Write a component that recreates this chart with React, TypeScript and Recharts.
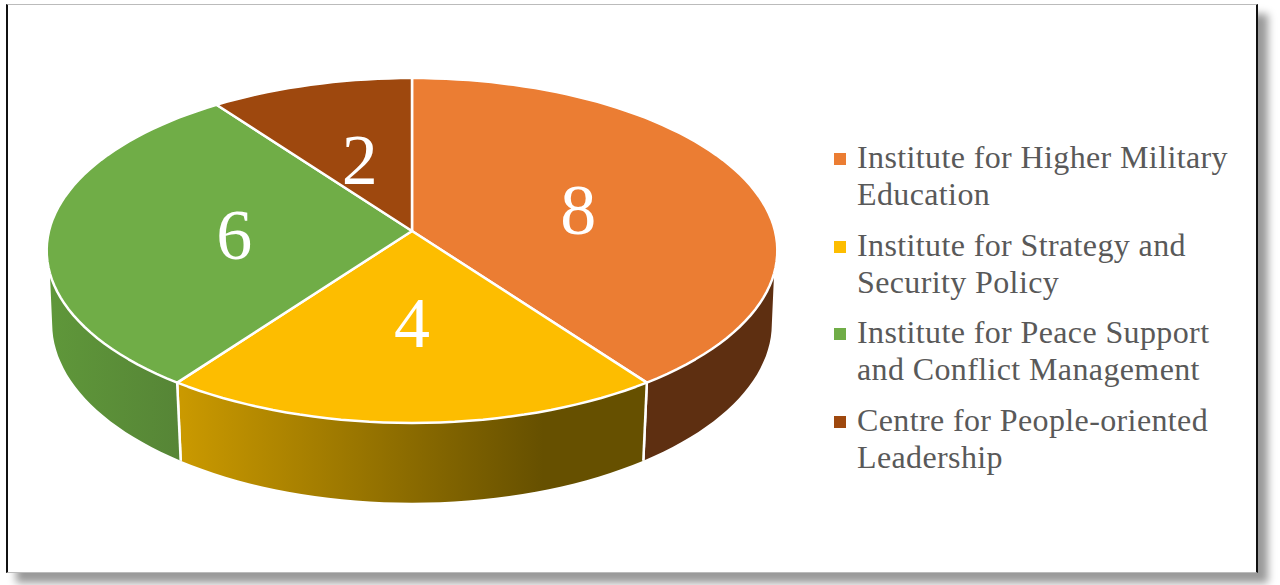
import { Legend, Pie, PieChart } from 'recharts'

const categories = [
  'Institute for Higher Military Education',
  'Institute for Strategy and Security Policy',
  'Institute for Peace Support and Conflict Management',
  'Centre for People-oriented Leadership',
]
const counts = [8, 4, 6, 2]
const topColors = ['#EB7D33', '#FDBD00', '#70AD47', '#9E480E']
const wallColors = ['#5E2F11', 'url(#wallYellow)', 'url(#wallGreen)', '#5E2F0A']

const data = categories.map((name, i) => ({
  name,
  value: counts[i],
  fill: topColors[i],
  wall: wallColors[i],
}))

// fake 3d: the flat circle gets tilted with a bit of perspective
const PERSPECTIVE = 0.113
const SQUASH = 0.469
const RING_X = 0.985
const RING_Y = 0.488
const RING_DROP = 72

const rad = (deg: number) => (deg * Math.PI) / 180

function topPoint(cx: number, cy: number, r: number, deg: number, f = 1) {
  const u = f * Math.cos(rad(deg))
  const v = f * Math.sin(rad(deg))
  const w = 1 + PERSPECTIVE * v
  return [cx + (r * u) / w, cy - (r * SQUASH * v) / w]
}

function lowPoint(cx: number, cy: number, r: number, deg: number) {
  const u = Math.cos(rad(deg))
  const v = Math.sin(rad(deg))
  const w = 1 + PERSPECTIVE * v
  return [cx + (r * RING_X * u) / w, cy + RING_DROP - (r * RING_Y * v) / w]
}

function arc(fn: (deg: number) => number[], from: number, to: number) {
  const steps = Math.max(2, Math.ceil(Math.abs(to - from) / 2))
  const pts: number[][] = []
  for (let i = 0; i <= steps; i++) pts.push(fn(from + ((to - from) * i) / steps))
  return pts
}

const toPath = (pts: number[][]) =>
  pts.map((p, i) => `${i ? 'L' : 'M'}${p[0].toFixed(1)} ${p[1].toFixed(1)}`).join(' ')

function PieSlice(props: any) {
  const { cx, cy, outerRadius: r, startAngle, endAngle, fill, wall } = props
  const top = (d: number) => topPoint(cx, cy, r, d)
  const low = (d: number) => lowPoint(cx, cy, r, d)

  // only the part of the rim facing the viewer has a wall
  const hi = Math.max(startAngle, endAngle)
  const lo = Math.min(startAngle, endAngle)
  const wallFrom = Math.max(lo, -166)
  const wallTo = Math.min(hi, -14)
  const hasWall = wallTo > wallFrom

  // lower ring runs a little further round so the silhouette drops straight
  const lowFrom = wallFrom === -166 ? -173 : wallFrom
  const lowTo = wallTo === -14 ? -7 : wallTo

  const wallPath = hasWall
    ? toPath([...arc(top, wallFrom, wallTo), ...arc(low, lowTo, lowFrom)]) + ' Z'
    : ''

  const seams = [lo, hi].filter((a) => a > -166 && a < -14)

  return (
    <g>
      {hasWall && <path d={wallPath} fill={wall} stroke="none" />}
      {seams.map((a) => (
        <line
          key={a}
          x1={top(a)[0]}
          y1={top(a)[1]}
          x2={low(a)[0]}
          y2={low(a)[1]}
          stroke="#ffffff"
          strokeWidth={2.5}
        />
      ))}
      <path
        d={toPath([[cx, cy], ...arc(top, startAngle, endAngle)]) + ' Z'}
        fill={fill}
        stroke="#ffffff"
        strokeWidth={2.5}
        strokeLinejoin="round"
      />
    </g>
  )
}

function SliceLabel(props: any) {
  const { cx, cy, outerRadius, midAngle, value } = props
  const [x, y] = topPoint(cx, cy, outerRadius, midAngle, 0.49)
  return (
    <text
      x={x}
      y={y + 4}
      fill="#ffffff"
      textAnchor="middle"
      dominantBaseline="central"
      style={{ fontFamily: '"Liberation Serif", serif', fontSize: 72 }}
    >
      {value}
    </text>
  )
}

function LegendList({ payload }: any) {
  return (
    <div
      style={{
        fontFamily: '"Liberation Serif", serif',
        fontSize: 32,
        letterSpacing: 0.38,
        lineHeight: '37px',
        color: '#595959',
      }}
    >
      {(payload ?? []).map((entry: any) => (
        <div key={entry.value} style={{ position: 'relative', paddingLeft: 23, marginBottom: 13.6 }}>
          <span
            style={{
              position: 'absolute',
              left: 0,
              top: 14,
              width: 12,
              height: 12,
              background: entry.color,
            }}
          />
          {entry.value}
        </div>
      ))}
    </div>
  )
}

export default function App() {
  return (
    <div style={{ position: 'absolute', left: 0, top: 0, width: 1280, height: 585, overflow: 'hidden', background: '#fff' }}>
      <div
        style={{
          position: 'absolute',
          left: 6,
          top: 4,
          width: 1248,
          height: 567,
          background: '#fff',
          borderLeft: '2px solid #111',
          borderRight: '2px solid #111',
          borderTop: '1px solid #bbb',
          borderBottom: '1px solid #bbb',
          boxShadow: '10px 10px 8px rgba(0,0,0,0.4)',
        }}
      />
      <div style={{ position: 'absolute', left: 0, top: 0 }}>
        <PieChart width={1280} height={585} margin={{ top: 0, right: 0, bottom: 0, left: 0 }}>
          <defs>
            <linearGradient id="wallYellow" x1="0" y1="0" x2="1" y2="0">
              <stop offset="0" stopColor="#CB9A00" />
              <stop offset="0.78" stopColor="#665000" />
              <stop offset="1" stopColor="#665000" />
            </linearGradient>
            <linearGradient id="wallGreen" x1="0" y1="0" x2="1" y2="0">
              <stop offset="0" stopColor="#5F973A" />
              <stop offset="1" stopColor="#568536" />
            </linearGradient>
          </defs>
          <Pie
            data={data}
            dataKey="value"
            nameKey="name"
            cx={412}
            cy={231}
            innerRadius={0}
            outerRadius={363}
            startAngle={90}
            endAngle={-270}
            paddingAngle={0}
            stroke="none"
            isAnimationActive={false}
            shape={PieSlice}
            label={SliceLabel}
            labelLine={false}
          />
          <Legend
            content={LegendList}
            itemSorter={null}
            wrapperStyle={{ position: 'absolute', left: 834, top: 139, width: 400, bottom: 'auto' }}
          />
        </PieChart>
      </div>
    </div>
  )
}
